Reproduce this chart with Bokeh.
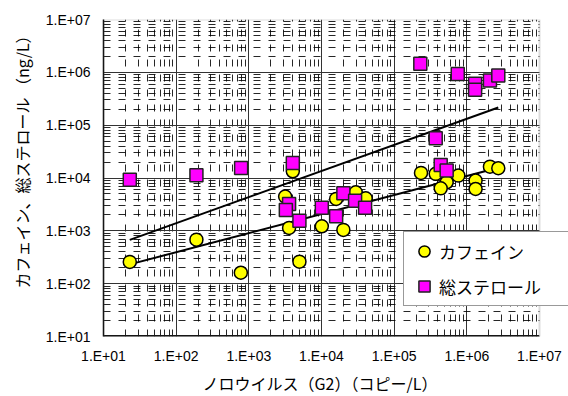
import numpy as np
from bokeh.plotting import figure
from bokeh.models import (FixedTicker, CustomJSTickFormatter, Legend, LegendItem,
                          ColumnDataSource, Range1d, BoxAnnotation)
from bokeh.embed import file_html
from bokeh.resources import INLINE

# Norovirus GII (copies/L) vs caffeine (ng/L)
caffeine_noro = [23, 190, 776, 4030, 3160, 3580, 10100, 15900, 20000, 29600, 40600,
                 4970, 234000, 373000, 764000, 528000, 437000, 1.32e6, 1.32e6,
                 2.08e6, 2.71e6]
caffeine_conc = [258, 681, 161, 13400, 4450, 1135, 1220, 4020, 1040, 5360, 4130,
                 261, 12500, 12000, 11100, 8300, 6380, 8930, 6200, 16400, 15300]

# Norovirus GII (copies/L) vs total sterols (ng/L)
sterol_noro = [23, 190, 783, 4030, 3580, 3230, 4970, 10100, 15900, 20000, 29000,
               39800, 373000, 437000, 528000, 229000, 750000, 1.30e6, 1.30e6,
               2.08e6, 2.71e6]
sterol_conc = [9300, 11250, 15500, 19300, 3230, 2490, 1560, 2720, 1880, 5130, 3730,
               2720, 56500, 17700, 13800, 1.45e6, 935000, 605000, 466000,
               700000, 870000]

decade_ticks = [1e1, 1e2, 1e3, 1e4, 1e5, 1e6, 1e7]
tick_labels = ["1.E+01", "1.E+02", "1.E+03", "1.E+04", "1.E+05", "1.E+06", "1.E+07"]

series_names = ["カフェイン", "総ステロール"]
x_title = "ノロウイルス（G2）（コピー/L）"
y_title = "カフェイン、総ステロール （ng/L）"

JP_FONT = "Noto Sans CJK JP"
NUM_FONT = "Liberation Sans"

AX_MIN, AX_MAX = decade_ticks[0], decade_ticks[-1]
minor_ticks = [k * d for d in decade_ticks[:-1] for k in range(2, 10)]

# plot area geometry: 6 decades across 436 px; the canvas keeps a blank
# strip on the right of the plot area where the legend box runs off
DECADE_PX = 436 / 6
RIGHT_STRIP = 29
x_end = AX_MAX * 10 ** (RIGHT_STRIP / DECADE_PX)

# axis titles sit a little off the centre of the plot area
PAD_SPACES = "\u3000\u3000\u2002"

p = figure(frame_width=436 + RIGHT_STRIP, frame_height=317,
           x_axis_type="log", y_axis_type="log",
           x_range=Range1d(AX_MIN, x_end), y_range=Range1d(AX_MIN, AX_MAX),
           output_backend="svg", toolbar_location=None,
           min_border_left=103, min_border_right=0,
           min_border_top=19, min_border_bottom=60)
p.background_fill_color = "white"
p.border_fill_color = "white"
p.outline_line_color = None

fmt = CustomJSTickFormatter(args=dict(labels=tick_labels), code="""
    const i = Math.round(Math.log10(tick)) - 1;
    return (i >= 0 && i < labels.length) ? labels[i] : "";
""")

for ax in (p.xaxis[0], p.yaxis[0]):
    ax.ticker = FixedTicker(ticks=decade_ticks, minor_ticks=minor_ticks)
    ax.formatter = fmt
    ax.axis_line_color = "black"
    ax.axis_line_width = 1.5
    ax.major_tick_line_color = None
    ax.minor_tick_line_color = None
    ax.major_tick_out = 0
    ax.major_tick_in = 0
    ax.minor_tick_out = 0
    ax.minor_tick_in = 0
    ax.major_label_text_font = NUM_FONT
    ax.major_label_text_font_size = "14px"
    ax.major_label_text_color = "black"
    ax.axis_label_text_font = JP_FONT
    ax.axis_label_text_font_size = "16px"
    ax.axis_label_text_font_style = "normal"
    ax.axis_label_text_color = "black"

p.xaxis.axis_label = x_title + PAD_SPACES
p.yaxis.axis_label = PAD_SPACES + y_title
p.xaxis.axis_line_color = None
p.xaxis.major_label_standoff = 11
p.xaxis.axis_label_standoff = 4
p.yaxis.major_label_standoff = 13
p.yaxis.axis_label_standoff = 9

p.xgrid[0].ticker = FixedTicker(ticks=decade_ticks[1:-1], minor_ticks=minor_ticks)
p.ygrid[0].ticker = FixedTicker(ticks=decade_ticks[1:-1], minor_ticks=minor_ticks)
for g in (p.xgrid[0], p.ygrid[0]):
    g.grid_line_color = "#333333"
    g.grid_line_width = 1
    g.minor_grid_line_color = "black"
    g.minor_grid_line_width = 1
    g.minor_grid_line_alpha = 0.85
    g.minor_grid_line_dash = "7 8"

# blank strip to the right of the plot area
p.add_layout(BoxAnnotation(left=AX_MAX, fill_color="white", fill_alpha=1.0,
                           line_color=None))
# plot-area border: grey top/right, black left (axis) and bottom
p.add_layout(BoxAnnotation(left=AX_MIN, right=AX_MAX, bottom=AX_MIN, top=AX_MAX,
                           fill_alpha=0, line_color="#8c8c8c", line_width=2))
p.segment(x0=[AX_MIN], y0=[AX_MIN], x1=[AX_MAX], y1=[AX_MIN],
          line_color="black", line_width=3)

# power-law trend lines fitted in log-log space
def trend(xs, ys):
    lx, ly = np.log10(xs), np.log10(ys)
    m, b = np.polyfit(lx, ly, 1)
    xe = np.array([min(xs), max(xs)], dtype=float)
    return xe, 10 ** (b + m * np.log10(xe))

tx, ty = trend(sterol_noro, sterol_conc)
p.line(tx, ty, line_color="black", line_width=2)
tx, ty = trend(caffeine_noro, caffeine_conc)
p.line(tx, ty, line_color="black", line_width=2)

src_c = ColumnDataSource(dict(x=caffeine_noro, y=caffeine_conc))
src_s = ColumnDataSource(dict(x=sterol_noro, y=sterol_conc))
r_c = p.scatter("x", "y", source=src_c, marker="circle", size=13,
                fill_color="#FFFF00", line_color="black", line_width=1.5)
r_s = p.scatter("x", "y", source=src_s, marker="square", size=13,
                fill_color="#FF00FF", line_color="#222222", line_width=1.5)

legend = Legend(items=[LegendItem(label=series_names[0], renderers=[r_c]),
                       LegendItem(label=series_names[1], renderers=[r_s])],
                location=(300, 30), orientation="vertical",
                border_line_color="#333333", border_line_width=1.5,
                background_fill_color="white", background_fill_alpha=1.0,
                label_text_font=JP_FONT, label_text_font_size="17px",
                label_text_color="black",
                glyph_width=30, glyph_height=28, label_height=28,
                label_width=180, spacing=7, padding=5, margin=0,
                label_standoff=0)
p.add_layout(legend)

open("out.html", "w").write(file_html(p, INLINE))
